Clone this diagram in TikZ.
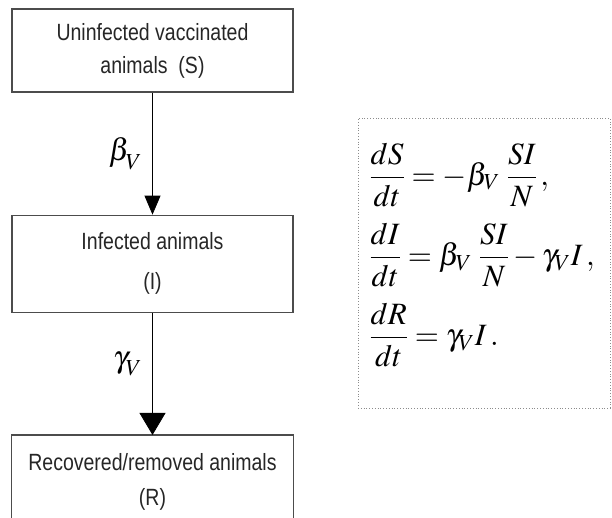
\documentclass[tikz,border=0pt]{standalone}
\usepackage{mathptmx}
\usepackage{amsmath}
\usepackage[no-math]{fontspec}
\newfontfamily\boxfont{Liberation Sans}[FakeStretch=0.83]
\usetikzlibrary{arrows.meta,positioning}

\begin{document}
\begin{tikzpicture}[
    x=1pt, y=-1pt,
    node distance=122pt,
    stage/.style={rectangle, draw=black!70, line width=1.3pt, minimum width=281pt, align=center, font=\boxfont\fontsize{23.5}{33}\selectfont, text=black!85},
    openstage/.style={rectangle, minimum width=281pt, minimum height=94pt, align=center, font=\boxfont\fontsize{23.5}{35}\selectfont, text=black!85},
    eqbox/.style={rectangle, draw=black!45, dotted, line width=0.8pt, minimum width=252pt, minimum height=290pt},
    rate/.style={left, inner sep=10pt, font=\fontsize{31}{36}\selectfont},
    flow/.style={line width=0.8pt, -{Triangle[width=16pt,length=19pt]}},
    bigflow/.style={line width=0.8pt, -{Triangle[width=26pt,length=22pt]}}
]
    \useasboundingbox (0,0) rectangle (612,517);
    \clip (0,0) rectangle (612,517);

    % Compartments
    \node[stage, minimum height=83pt] (sus) at (152.5,50.5) {Uninfected vaccinated\\animals\ \ (S)};
    \node[stage, minimum height=97pt, below=of sus] (inf) {Infected animals\\[7pt](I)};
    \node[openstage, below=of inf] (rec) {Recovered/removed animals\\(R)};
    \draw[draw=black!70, line width=1.3pt] (rec.south west) -- (rec.north west) -- (rec.north east) -- (rec.south east);

    % Model equations
    \node[eqbox] (box) at (484,263) {};
    \node[anchor=west, font=\fontsize{31}{36}\selectfont] (eqs) at (366,255) {$\begin{aligned}
        &\dfrac{dS}{dt} = -\beta_V\;\dfrac{SI}{N}\,, \\[12pt]
        &\dfrac{dI}{dt} = \beta_V\;\dfrac{SI}{N} - \gamma_V I\,, \\[12pt]
        &\dfrac{dR}{dt} = \gamma_V I\,.
    \end{aligned}$};

    % Arrows
    \draw[flow] (sus) -- node[rate] {$\beta_{\lower4pt\hbox{$\scriptstyle V$}}$} (inf);
    \draw[bigflow] (inf) -- node[rate, pos=0.42] {$\gamma_{\lower4pt\hbox{$\scriptstyle V$}}$} (rec);
\end{tikzpicture}
\end{document}
